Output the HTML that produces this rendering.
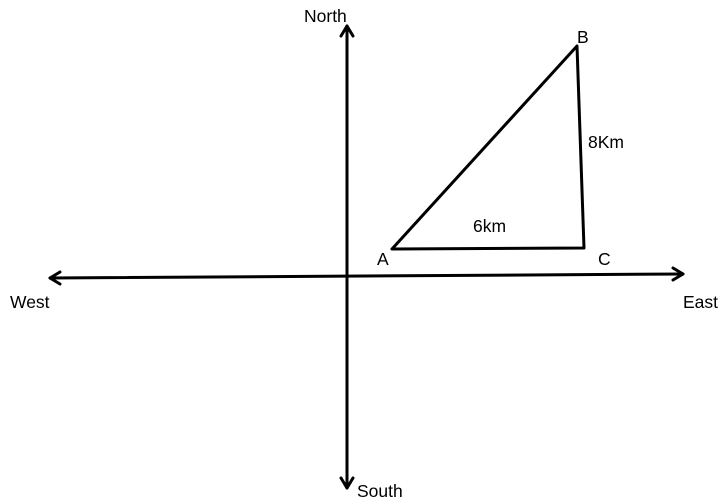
<!DOCTYPE html>
<html><head><style>body{margin:0;background:#fff}svg{display:block}</style></head><body>
<svg width="724" height="500" viewBox="0 0 724 500" xmlns="http://www.w3.org/2000/svg" font-family="Liberation Sans, sans-serif" font-size="17.5" fill="#000">
<g stroke="#000" stroke-width="3" fill="none" stroke-linecap="round" stroke-linejoin="round">
<line x1="347" y1="26" x2="347" y2="488"/>
<polyline points="341,36 347,26 353,36"/>
<polyline points="341,478 347,488 353,478"/>
<line x1="50" y1="278" x2="683" y2="274"/>
<polyline points="60,272 50,278 60,284"/>
<polyline points="673,268 683,274 673,280"/>
<polyline points="392,249 577,46 584,248 392,249"/>
</g>
<text x="304" y="22">North</text>
<text x="357" y="497">South</text>
<text x="10" y="308">West</text>
<text x="683" y="308">East</text>
<text x="577" y="43">B</text>
<text x="377" y="265">A</text>
<text x="598" y="265">C</text>
<text x="588" y="148">8Km</text>
<text x="473" y="232">6km</text>
</svg>
</body></html>
